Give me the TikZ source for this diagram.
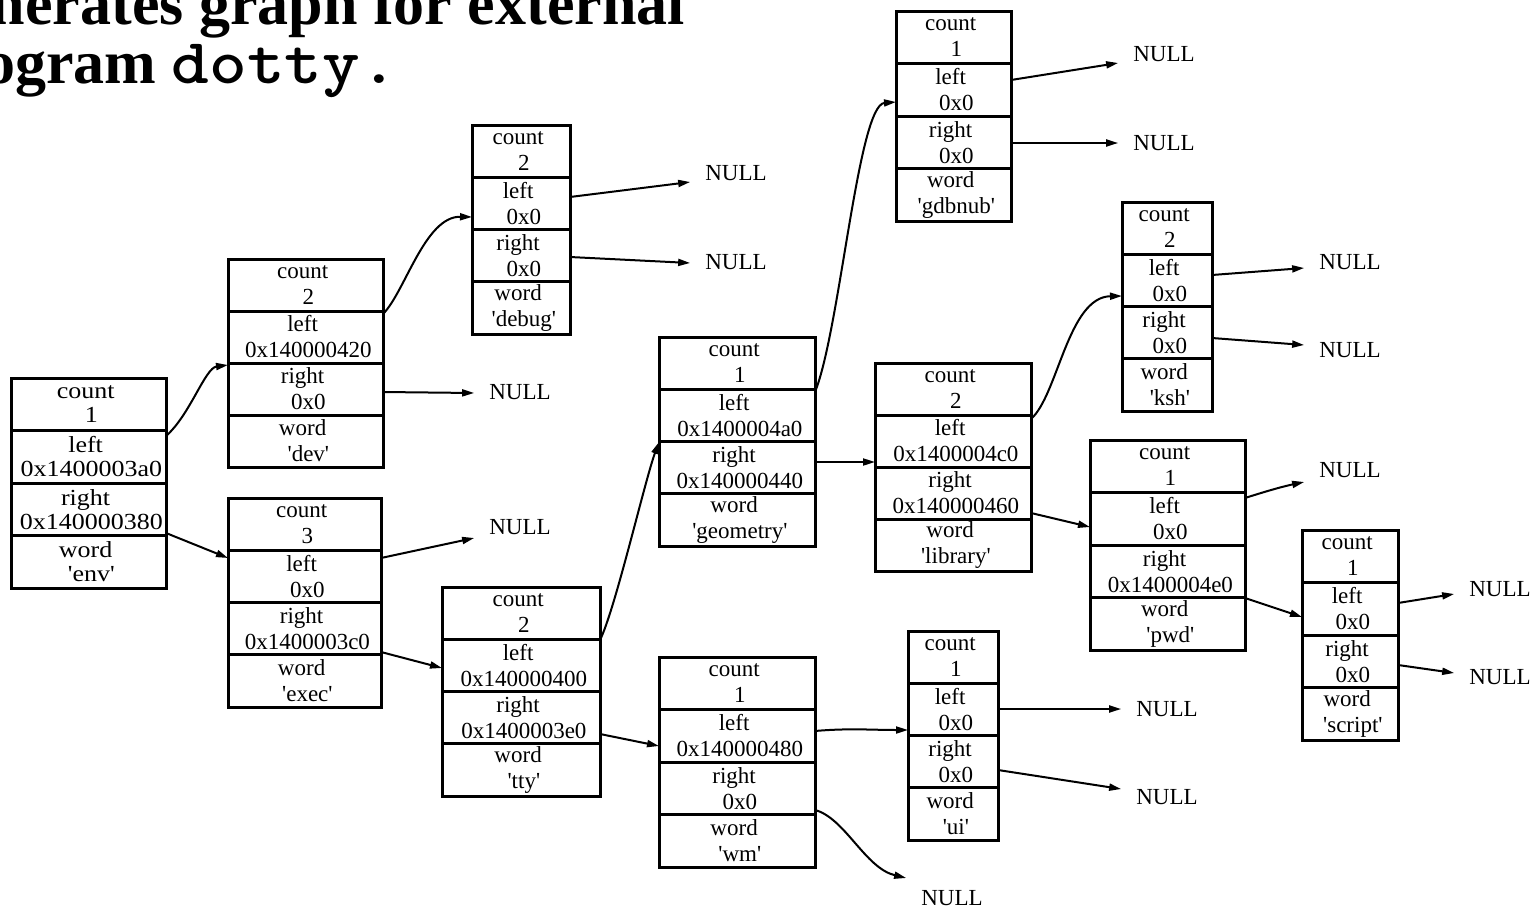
\documentclass[tikz,border=0pt]{standalone}
\usepackage{fontspec}
\usetikzlibrary{arrows.meta}

\newfontfamily\recfont{Liberation Serif}[Ligatures=TeXOff]
\newfontfamily\recwidefont{Liberation Serif}[Ligatures=TeXOff,FakeStretch=1.13]
\newfontfamily\codefont{lmmonolt10-bold}[Extension=.otf,FakeStretch=1.12]

\tikzset{
  recrow/.style={draw, line width=3pt, inner sep=0pt, outer sep=0pt, align=center,
    font=\recfont\fontsize{23}{26}\selectfont},
  link/.style={line width=2pt, -{Triangle[length=12pt,width=7pt]}},
  nullnode/.style={inner xsep=15pt, inner ysep=0pt, font=\recfont\fontsize{23}{26}\selectfont},
  titletext/.style={inner sep=0pt, font=\recfont\bfseries\fontsize{62}{62}\selectfont},
}

% two-line field text: label slightly left, value slightly right
\newcommand\fieldtxt[2]{\mbox{#1\kern.25em}\\\mbox{\kern.25em#2}}

% record node: name, left, top, right, bottom, count, left, right, word
\newcommand\record[9]{%
  \pgfmathsetmacro\recw{#4-#2}%
  \pgfmathsetmacro\rech{(#5-#3)/4}%
  \node[recrow, minimum width=\recw pt, minimum height=\rech pt, anchor=north west]
    (#1-count) at (#2,#3) {\fieldtxt{count}{#6}};
  \node[recrow, minimum width=\recw pt, minimum height=\rech pt, anchor=north west]
    (#1-left) at (#1-count.south west) {\fieldtxt{left}{#7}};
  \node[recrow, minimum width=\recw pt, minimum height=\rech pt, anchor=north west]
    (#1-right) at (#1-left.south west) {\fieldtxt{right}{#8}};
  \node[recrow, minimum width=\recw pt, minimum height=\rech pt, anchor=north west]
    (#1-word) at (#1-right.south west) {\fieldtxt{word}{#9}};
}

\begin{document}
\begin{tikzpicture}[x=1pt, y=-1pt]
\useasboundingbox (0,0) rectangle (1540,913);
\clip (0,0) rectangle (1540,913);

% heading
\node[titletext, anchor=base east] (head1) at (685,24) {nerates graph for external};
\node[titletext, anchor=base west] (head2) at (-16,83) {ogram {\codefont\fontsize{64}{64}\selectfont dotty.}};

% tree records
\begin{scope}[recrow/.append style={font=\recwidefont\fontsize{23}{24}\selectfont}]
\record{env}{11}{378}{166}{588}{1}{0x1400003a0}{0x140000380}{'env'}
\end{scope}
\record{dev}{228}{259}{383}{467}{2}{0x140000420}{0x0}{'dev'}
\record{exec}{228}{498}{381}{707}{3}{0x0}{0x1400003c0}{'exec'}
\record{debug}{472}{125}{570}{334}{2}{0x0}{0x0}{'debug'}
\record{tty}{442}{587}{600}{796}{2}{0x140000400}{0x1400003e0}{'tty'}
\record{geometry}{659}{337}{815}{546}{1}{0x1400004a0}{0x140000440}{'geometry'}
\record{wm}{659}{657}{815}{867}{1}{0x140000480}{0x0}{'wm'}
\record{ui}{908}{631}{998}{840}{1}{0x0}{0x0}{'ui'}
\record{gdbnub}{896}{11}{1011}{221}{1}{0x0}{0x0}{'gdbnub'}
\record{library}{875}{363}{1031}{571}{2}{0x1400004c0}{0x140000460}{'library'}
\record{ksh}{1122}{202}{1212}{411}{2}{0x0}{0x0}{'ksh'}
\record{pwd}{1090}{440}{1245}{650}{1}{0x0}{0x1400004e0}{'pwd'}
\record{script}{1302}{530}{1398}{740}{1}{0x0}{0x0}{'script'}

% null pointers
\node[nullnode] (n-dev)     at (520,392) {NULL};
\node[nullnode] (n-exec)    at (520,527) {NULL};
\node[nullnode] (n-debug-l) at (736,173) {NULL};
\node[nullnode] (n-debug-r) at (736,262) {NULL};
\node[nullnode] (n-gdb-l)   at (1164,54) {NULL};
\node[nullnode] (n-gdb-r)   at (1164,143) {NULL};
\node[nullnode] (n-ksh-l)   at (1350,262) {NULL};
\node[nullnode] (n-ksh-r)   at (1350,350) {NULL};
\node[nullnode] (n-pwd)     at (1350,470) {NULL};
\node[nullnode] (n-scr-l)   at (1500,589) {NULL};
\node[nullnode] (n-scr-r)   at (1500,677) {NULL};
\node[nullnode] (n-ui-l)    at (1167,709) {NULL};
\node[nullnode] (n-ui-r)    at (1167,797) {NULL};
\node[nullnode] (n-wm)      at (952,898) {NULL};

% pointers between records
\draw[link] (env-left.east |- 0,436) .. controls (190,415) and (205,368) .. (dev-left.west |- 0,365);
\draw[link] (env-right.east |- 0,533) -- (exec-left.west |- 0,558);
\draw[link] (dev-left.east |- 0,314) .. controls (405,292) and (425,216) .. (debug-left.west |- 0,217);
\draw[link] (dev-right.east |- 0,392) -- (n-dev.west |- 0,393);
\draw[link] (exec-left.east |- 0,558) -- (n-exec.west |- 0,538);
\draw[link] (exec-right.east |- 0,652) -- (tty-left.west |- 0,668);
\draw[link] (debug-left.east |- 0,197) -- (n-debug-l.west |- 0,182);
\draw[link] (debug-right.east |- 0,257) -- (n-debug-r.west |- 0,263);
\draw[link] (tty-left.east |- 0,640) .. controls (615,610) and (645,480) .. (geometry-left.west |- 0,442);
\draw[link] (tty-right.east |- 0,734) -- (wm-left.west |- 0,746);
\draw[link] (geometry-left.east |- 0,392) .. controls (840,330) and (858,105) .. (gdbnub-left.west |- 0,102);
\draw[link] (geometry-right.east |- 0,462) -- (library-left.west |- 0,462);
\draw[link] (wm-left.east |- 0,731) .. controls (850,728) and (870,730) .. (ui-left.west |- 0,730);
\draw[link] (wm-right.east |- 0,810) .. controls (845,818) and (865,868) .. (n-wm.west |- 0,878);
\draw[link] (ui-left.east |- 0,709) -- (n-ui-l.west |- 0,709);
\draw[link] (ui-right.east |- 0,770) -- (n-ui-r.west |- 0,789);
\draw[link] (gdbnub-left.east |- 0,80) -- (n-gdb-l.west |- 0,63);
\draw[link] (gdbnub-right.east |- 0,143) -- (n-gdb-r.west |- 0,143);
\draw[link] (library-left.east |- 0,419) .. controls (1058,395) and (1068,297) .. (ksh-left.west |- 0,296);
\draw[link] (library-right.east |- 0,513) -- (pwd-left.west |- 0,527);
\draw[link] (ksh-left.east |- 0,275) -- (n-ksh-l.west |- 0,268);
\draw[link] (ksh-right.east |- 0,338) -- (n-ksh-r.west |- 0,345);
\draw[link] (pwd-left.east |- 0,498) .. controls (1270,490) and (1285,486) .. (n-pwd.west |- 0,482);
\draw[link] (pwd-right.east |- 0,598) -- (script-left.west |- 0,617);
\draw[link] (script-left.east |- 0,603) -- (n-scr-l.west |- 0,594);
\draw[link] (script-right.east |- 0,665) -- (n-scr-r.west |- 0,673);
\end{tikzpicture}
\end{document}
